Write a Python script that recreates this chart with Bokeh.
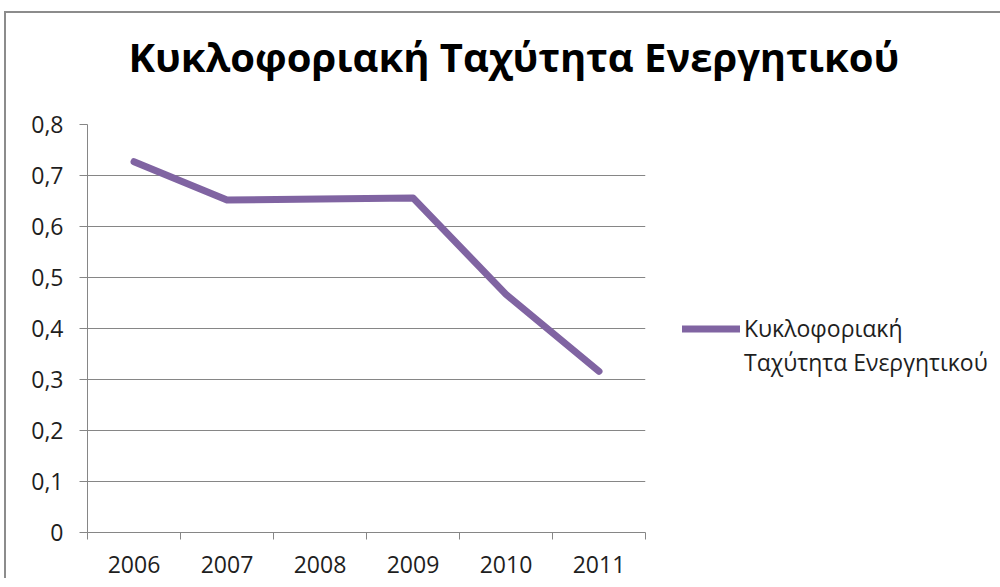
from bokeh.plotting import figure
from bokeh.models import FixedTicker, CustomJSTickFormatter, Legend, LegendItem, ColumnDataSource, Range1d, Title
from bokeh.embed import file_html
from bokeh.resources import INLINE

# ---- data ----
years = ["2006", "2007", "2008", "2009", "2010", "2011"]
values = [0.727, 0.652, 0.654, 0.656, 0.467, 0.316]
y_ticks = [0, 0.1, 0.2, 0.3, 0.4, 0.5, 0.6, 0.7, 0.8]
title_text = "Κυκλοφοριακή Ταχύτητα Ενεργητικού"
legend_lines = ["Κυκλοφοριακή", "Ταχύτητα Ενεργητικού"]

centers = [i + 0.5 for i in range(len(years))]
bounds = list(range(len(years) + 1))

FONT = "Open Sans"
GRAY = "#868686"
TXT = "#1e1e1e"
PURPLE = "#8064A2"

p = figure(
    frame_width=558, frame_height=408,
    x_range=Range1d(0, len(years)), y_range=Range1d(0, 0.8),
    output_backend="svg", toolbar_location=None,
    min_border_left=81, min_border_top=111, min_border_right=0, min_border_bottom=48,
    title=None,
)
p.margin = (13, 0, 0, 6)
p.styles = {"box-shadow": "-2px -2px 0px 0px #8c8c8c"}
p.outline_line_color = None
p.background_fill_color = "white"
p.border_fill_color = "white"

src = ColumnDataSource(dict(x=centers, y=values))
r = p.line("x", "y", source=src, line_width=7, line_color=PURPLE,
           line_cap="round", line_join="round")
dummy = p.line(x=[], y=[], line_alpha=0)

# spacer (nearest the frame) then the title above it
spacer = Title(text=" ", text_font_size="1px", standoff=38)
main_title = Title(text=title_text, text_font=FONT, text_font_style="bold",
                   text_font_size="40px", text_color="#000000",
                   align="left", offset=41, standoff=0, vertical_align="bottom")
p.add_layout(spacer, "above")
p.add_layout(main_title, "above")

# x axis
xa = p.xaxis[0]
xa.ticker = FixedTicker(ticks=centers, minor_ticks=bounds)
xa.major_label_overrides = {c: y for c, y in zip(centers, years)}
xa.major_tick_line_color = None
xa.minor_tick_line_color = GRAY
xa.minor_tick_in = 0
xa.minor_tick_out = 7
xa.axis_line_color = GRAY
xa.major_label_text_font = FONT
xa.major_label_text_font_size = "23px"
xa.major_label_text_color = TXT
xa.major_label_standoff = 16

# y axis
ya = p.yaxis[0]
ya.ticker = FixedTicker(ticks=y_ticks)
ya.formatter = CustomJSTickFormatter(code="return tick == 0 ? '0' : tick.toFixed(1).replace('.', ',');")
ya.major_tick_line_color = GRAY
ya.major_tick_in = 0
ya.major_tick_out = 8
ya.minor_tick_line_color = None
ya.axis_line_color = GRAY
ya.major_label_text_font = FONT
ya.major_label_text_font_size = "23px"
ya.major_label_text_color = TXT
ya.major_label_standoff = 16

p.xgrid.visible = False
p.ygrid.ticker = FixedTicker(ticks=y_ticks)
p.ygrid.grid_line_color = GRAY
p.ygrid.grid_line_width = 1

legend = Legend(
    items=[LegendItem(label=legend_lines[0], renderers=[r]),
           LegendItem(label=legend_lines[1], renderers=[dummy])],
    location=(37, 154),
    padding=0, margin=0, spacing=2,
    glyph_width=58, glyph_height=23, label_height=23, label_standoff=4,
    label_text_font=FONT, label_text_font_size="23px", label_text_color=TXT,
    border_line_color=None, background_fill_alpha=0,
)
p.add_layout(legend, "right")

open("out.html", "w").write(file_html(p, INLINE))
